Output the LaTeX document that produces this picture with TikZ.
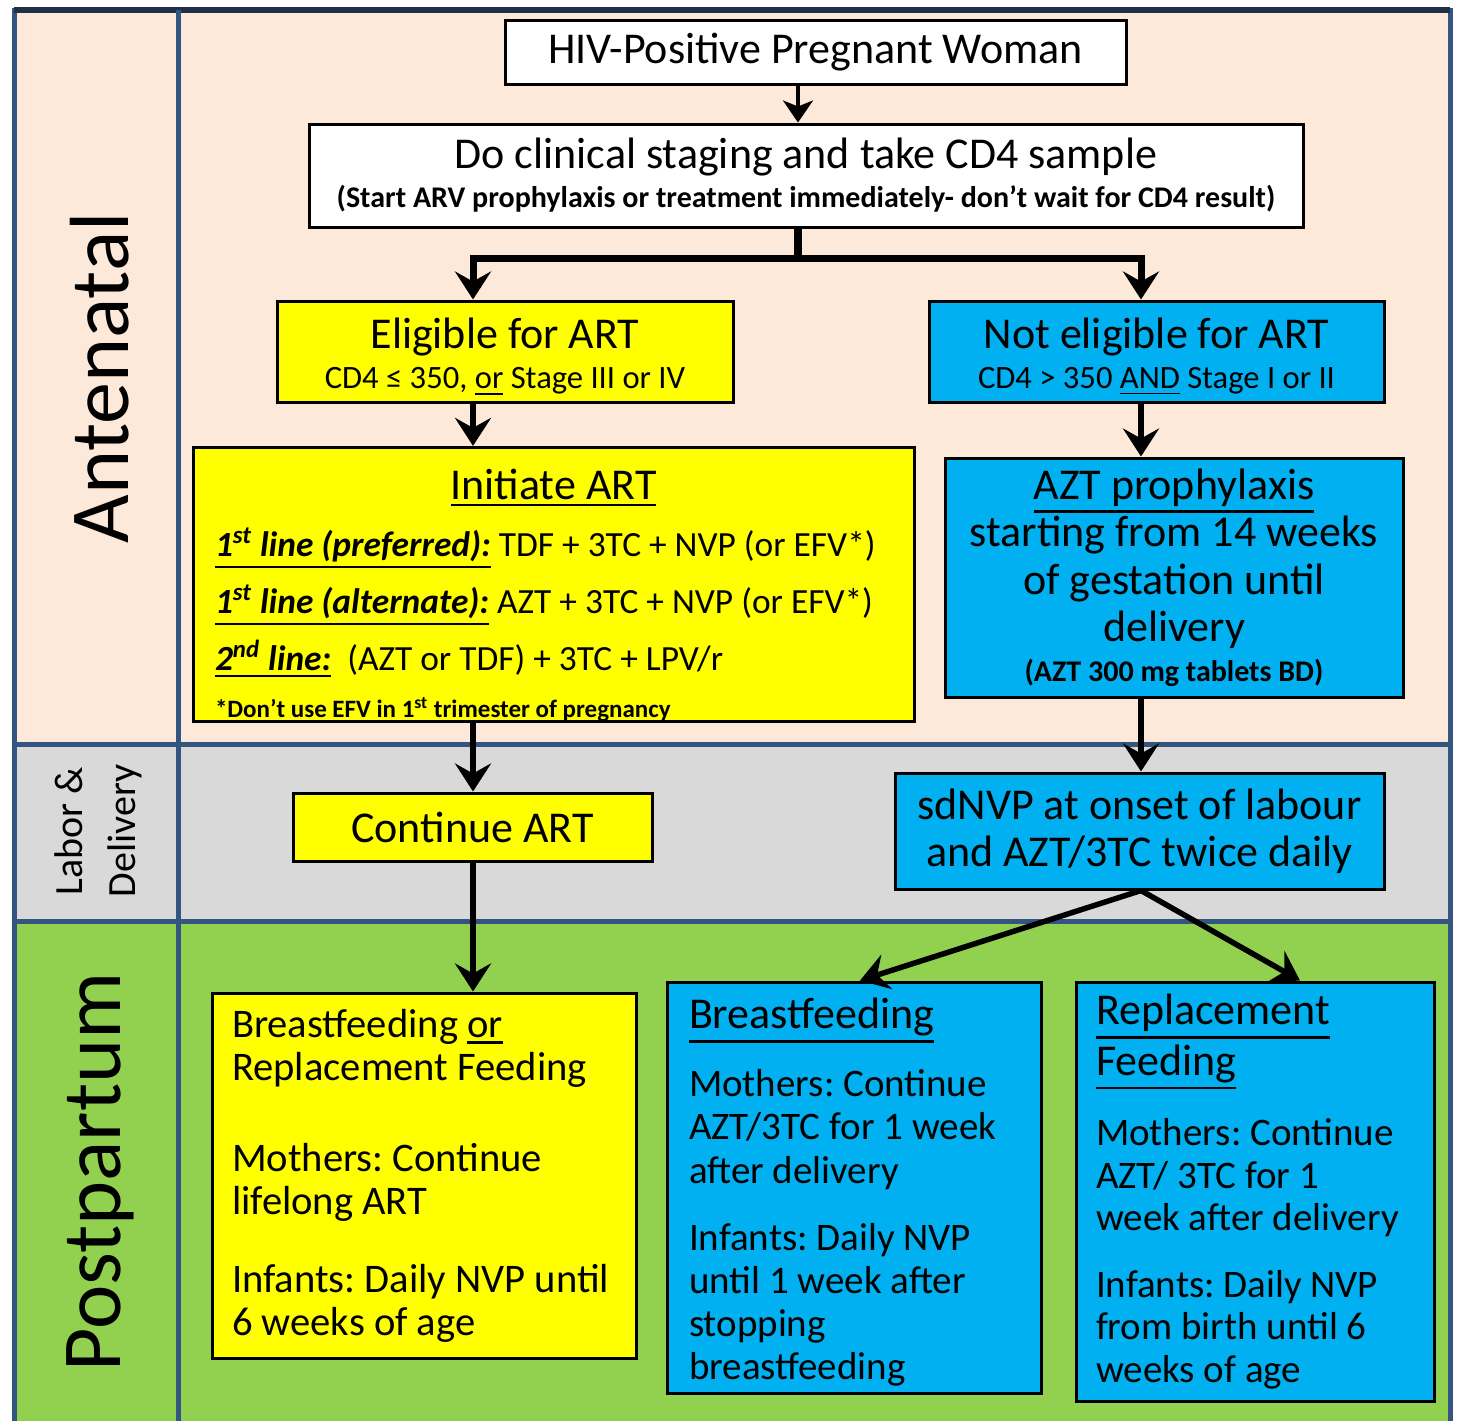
\documentclass[tikz,border=0pt]{standalone}
\usepackage{fontspec}
\setmainfont{Carlito}
\usetikzlibrary{arrows.meta}
\frenchspacing
\definecolor{peach}{HTML}{FDE9D9}
\definecolor{lgray}{HTML}{D9D9D9}
\definecolor{lgreen}{HTML}{92D050}
\definecolor{yel}{HTML}{FFFF00}
\definecolor{sky}{HTML}{00B0F0}
\definecolor{laneline}{HTML}{34557F}
\definecolor{lanedark}{HTML}{1F2F45}
\newcommand\myul[1]{\leavevmode\vtop{\hbox{#1}\kern2pt\hrule height0.06em}}
\begin{document}
\begin{tikzpicture}[x=0.5pt,y=-0.5pt,
  box/.style={draw=black, line width=1.5pt, inner sep=0pt},
  big/.style={font=\fontsize{22}{23.5}\selectfont},
  arr/.style={line width=2.75pt, -{Stealth[length=14pt,width=18pt,inset=5pt]}},
  lanelabel/.style={rotate=90, inner sep=0pt}]
\useasboundingbox (0,0) rectangle (1458,1421);
% lanes
\fill[peach] (14,10) rectangle (1450,744);
\fill[lgray] (14,744) rectangle (1450,921);
\fill[lgreen] (14,921) rectangle (1450,1421);
\draw[laneline, line width=2.5pt] (14,1421) -- (14,10) -- (1450,10) -- (1450,1421);
\draw[lanedark, line width=3pt] (14,10) -- (1450,10);
\draw[laneline, line width=2.5pt] (14,744) -- (1450,744);
\draw[laneline, line width=2.5pt] (14,921) -- (1450,921);
\draw[laneline, line width=2.5pt] (178,10) -- (178,1421);
\node[lanelabel, font=\fontsize{42}{50}\selectfont] (lA) at (100,378) {Antenatal};
\node[lanelabel, align=center, font=\fontsize{20}{26.5}\selectfont] (lL) at (98,831) {Labor \&\\Delivery};
\node[lanelabel, font=\fontsize{42}{50}\selectfont] (lP) at (100,1172) {Postpartum};
% boxes
\node[box, fill=white, big, minimum width=310.5pt, minimum height=32pt] (b1) at (815.5,52) {HIV-Positive Pregnant Woman};
\node[box, fill=white, align=center, minimum width=497pt, minimum height=51.5pt, font=\fontsize{22}{19.5}\selectfont] (b2) at (806,175.5)
  {Do clinical staging and take CD4 sample\\{\fontsize{15}{19.5}\selectfont\bfseries (Start ARV prophylaxis or treatment immediately- don’t wait for CD4 result)}};
\node[box, fill=yel, align=center, minimum width=228pt, minimum height=50.5pt, font=\fontsize{22}{20}\selectfont] (b3) at (505,351.5)
  {\rule{0pt}{20pt}Eligible for ART\\{\fontsize{16.3}{20}\selectfont CD4 ≤ 350, \myul{or} Stage III or IV}};
\node[box, fill=sky, align=center, minimum width=227.5pt, minimum height=50.5pt, font=\fontsize{22}{20}\selectfont] (b4) at (1156.5,351.5)
  {\rule{0pt}{20pt}Not eligible for ART\\{\fontsize{16.3}{20}\selectfont CD4 > 350 \myul{AND} Stage I or II}};
\node[box, fill=yel, align=flush left, text width=338.5pt, minimum width=360.5pt, minimum height=134.5pt, font=\fontsize{17.7}{28.5}\selectfont] (b5) at (553.5,584.5)
  {\makebox[338.5pt]{\fontsize{22}{26}\selectfont\rule{0pt}{26pt}\myul{Initiate ART}}\\
   \mbox{\myul{\textbf{\textit{1\textsuperscript{st} line (preferred):}}} TDF + 3TC + NVP (or EFV*)}\\
   \mbox{\myul{\textbf{\textit{1\textsuperscript{st} line (alternate):}}} AZT + 3TC + NVP (or EFV*)}\\
   \mbox{\myul{\textbf{\textit{2\textsuperscript{nd} line:}}}\ \ (AZT or TDF) + 3TC + LPV/r}\\[-5pt]
   \mbox{\fontsize{12.5}{14}\selectfont\bfseries *Don’t use EFV in 1\textsuperscript{st} trimester of pregnancy}};
\node[box, fill=sky, align=center, minimum width=229pt, minimum height=119.5pt, font=\fontsize{22}{23.75}\selectfont] (b6) at (1174,577.5)
  {\myul{AZT prophylaxis}\\starting from 14 weeks\\of gestation until\\delivery\\[-4pt]{\fontsize{15}{16}\selectfont\bfseries (AZT 300 mg tablets BD)}};
\node[box, fill=yel, big, minimum width=179.5pt, minimum height=34pt] (b7) at (472.5,827) {Continue ART};
\node[box, fill=sky, big, align=center, minimum width=244.5pt, minimum height=58pt] (b8) at (1139.5,831)
  {sdNVP at onset of labour\\and AZT/3TC twice daily};
\node[box, fill=yel, align=flush left, text width=192pt, minimum width=212pt, minimum height=182.5pt, font=\fontsize{20.3}{21.5}\selectfont] (b9) at (424,1175.5)
  {Breastfeeding \myul{or}\\Replacement Feeding\\[24pt]Mothers: Continue\\lifelong ART\\[17.5pt]\mbox{Infants: Daily NVP until}\\6 weeks of age};
\node[box, fill=sky, align=flush left, text width=165pt, minimum width=187pt, minimum height=205.5pt, font=\fontsize{19.5}{21.6}\selectfont] (b10) at (854,1187.5)
  {{\fontsize{22}{21.6}\selectfont\rule{0pt}{20pt}\myul{Breastfeeding}}\\[12.4pt]Mothers: Continue\\\mbox{AZT/3TC for 1 week}\\after delivery\\[11.9pt]Infants: Daily NVP\\until 1 week after\\stopping\\breastfeeding};
\node[box, fill=sky, align=flush left, text width=159pt, minimum width=179pt, minimum height=209.5pt, font=\fontsize{19.5}{21.25}\selectfont] (b11) at (1255,1191.5)
  {{\fontsize{22}{21.25}\selectfont\myul{Replacement}}\\[2pt]{\fontsize{22}{21.25}\selectfont\myul{Feeding}}\\[14pt]Mothers: Continue\\AZT/ 3TC for 1\\\mbox{week after delivery}\\[12pt]Infants: Daily NVP\\from birth until 6\\weeks of age};
% connectors
\coordinate (t0) at (798,258);
\coordinate (cl) at (473,258);
\coordinate (cr) at (1141,258);
\coordinate (c10) at (860,0);
\coordinate (c11) at (1300,0);
\draw[line width=1.75pt, -{Stealth[length=11pt,width=15pt,inset=3pt]}] (b1.south -| t0) -- (b2.north -| t0);
\draw[line width=4pt] (b2.south -| t0) -- (t0);
\draw[line width=3.5pt, {Stealth[length=14pt,width=18pt,inset=5pt]}-{Stealth[length=14pt,width=18pt,inset=5pt]}]
  (b3.north -| cl) -- (cl) -- (cr) -- (b4.north -| cr);
\draw[arr] (b3.south -| cl) -- (b5.north -| cl);
\draw[arr] (b4.south -| cr) -- (b6.north -| cr);
\draw[arr] (b5.south -| cl) -- (b7.north -| cl);
\draw[arr] (b6.south -| cr) -- (b8.north -| cr);
\draw[arr] (b7.south -| cl) -- (b9.north -| cl);
\draw[arr] (b8.south -| cr) -- (b10.north -| c10);
\draw[arr] (b8.south -| cr) -- (b11.north -| c11);
\end{tikzpicture}
\end{document}
